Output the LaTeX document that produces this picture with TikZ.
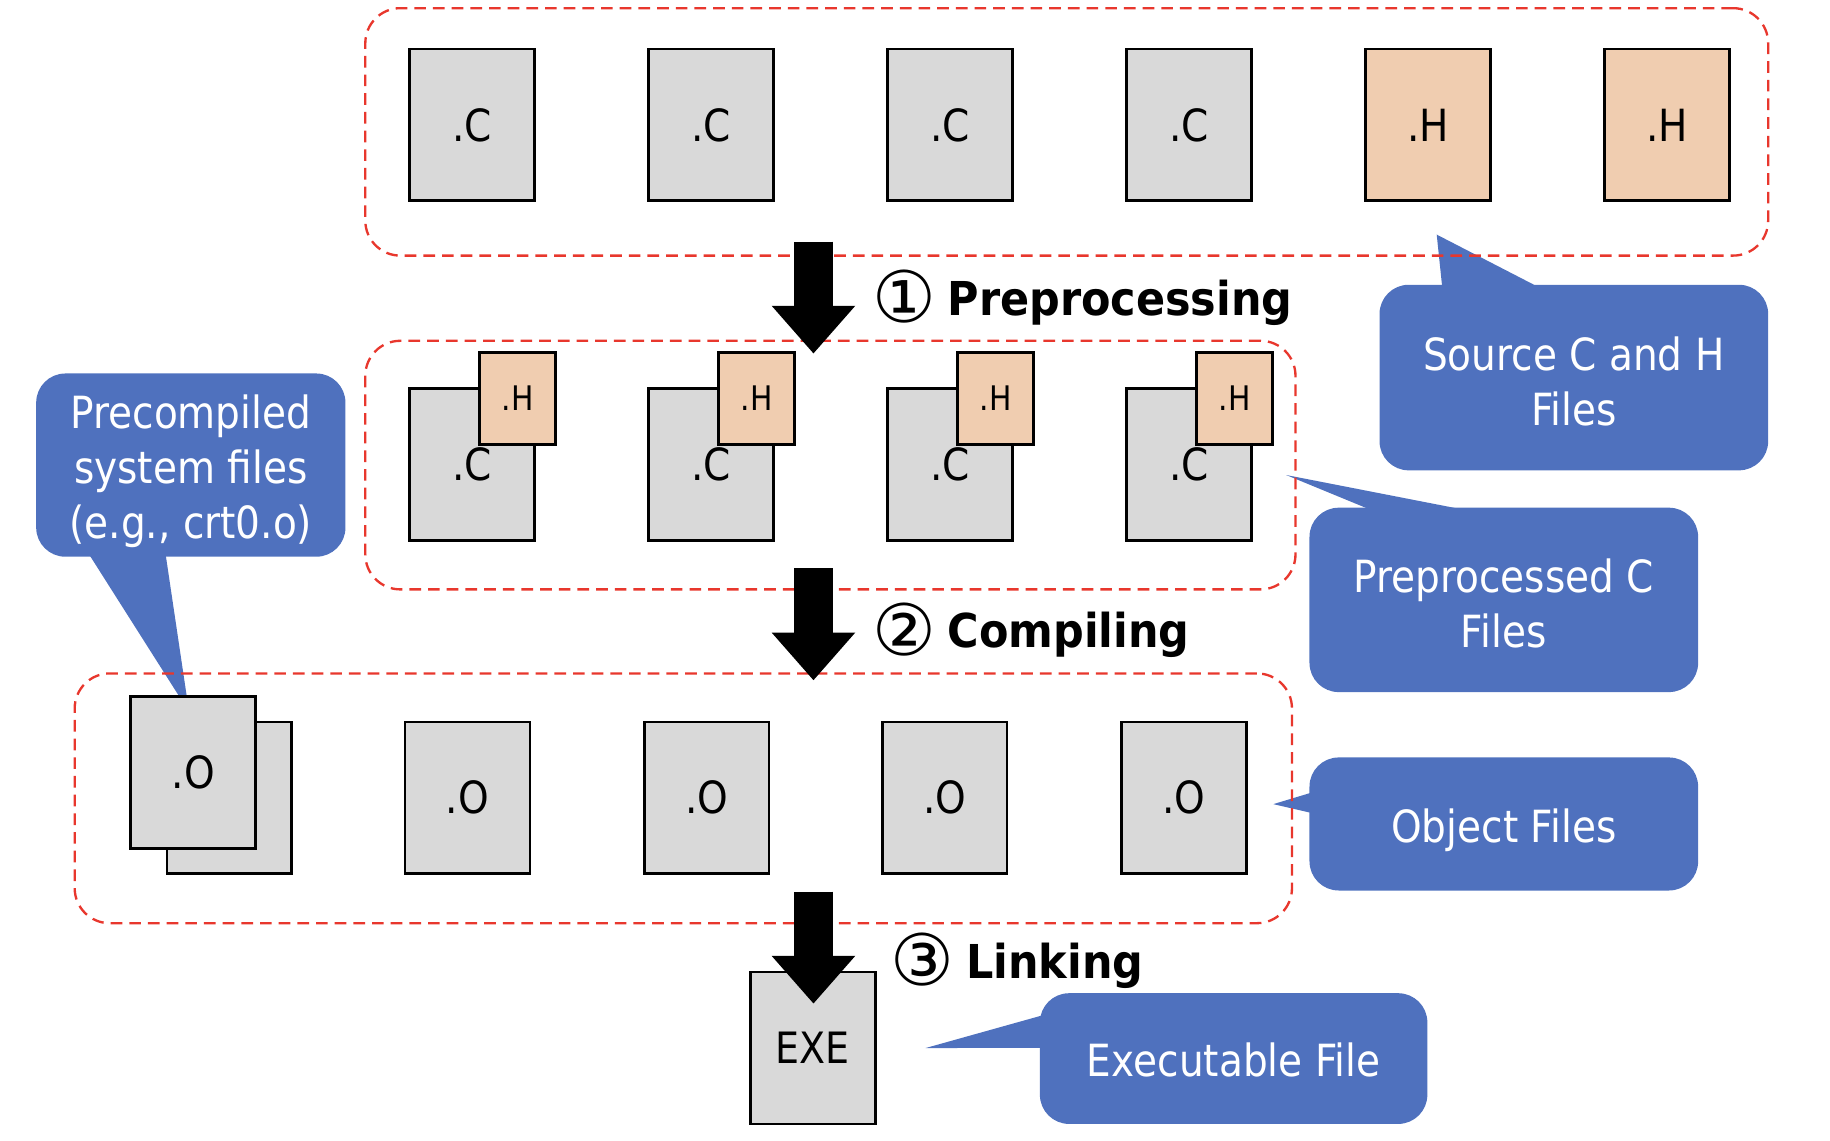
\documentclass[tikz,border=0pt]{standalone}
\usepackage{fontspec}
\setmainfont{DejaVu Sans}[FakeStretch=0.88]
\newfontfamily\labfont{DejaVu Sans}[FakeStretch=0.92]
\newfontfamily\circfont{DejaVu Sans}
\usetikzlibrary{arrows.meta,calc}
\definecolor{filegray}{HTML}{D9D9D9}
\definecolor{hpeach}{HTML}{F0CDB0}
\definecolor{callblue}{HTML}{4F71BE}
\definecolor{grpred}{HTML}{E8372D}
\newcommand{\circnum}[1]{\raisebox{-6.5pt}{\circfont\mdseries\fontsize{61}{61}\selectfont #1}\hspace{10pt}}
\begin{document}
\begin{tikzpicture}[x=1pt,y=-1pt,
 filebox/.style={draw=black, line width=2.2pt, fill=filegray, minimum width=107pt, minimum height=130pt, inner sep=0pt, font=\fontsize{38}{46}\selectfont},
 hfilebox/.style={filebox, fill=hpeach},
 hsmallbox/.style={draw=black, line width=2.2pt, fill=hpeach, minimum width=65pt, minimum height=79pt, inner sep=0pt, font=\fontsize{29}{35}\selectfont},
 grpbox/.style={draw=grpred, line width=2pt, dash pattern=on 10pt off 6pt, rounded corners=30pt, inner sep=0pt},
 calloutbox/.style={fill=callblue, rounded corners=25pt, inner sep=0pt},
 calltext/.style={text=white, align=center, inner sep=0pt, font=\fontsize{38}{47}\selectfont},
 ptr/.style={fill=callblue},
 bigarrow/.style={line width=34pt, -{Triangle[length=41pt,width=69pt]}},
 steplabel/.style={anchor=base west, inner sep=0pt, font=\labfont\bfseries\fontsize{40}{48}\selectfont}
]
\useasboundingbox (0,0) rectangle (1568,977);

% callouts
\node[calloutbox, minimum width=333pt, minimum height=159pt] (src) at (1348.5,323.5) {};
\node[calltext] (srct) at ($(src)+(0,3)$) {Source C and H\\Files};
\coordinate (srctip) at (1231,201);
\fill[ptr] ($(src.north west)+(54,3)$) -- (srctip) -- ($(src.north west)+(138,3)$) -- cycle;

\node[calloutbox, minimum width=333pt, minimum height=158pt] (pre) at (1288.5,514) {};
\node[calltext] (pret) at ($(pre)+(0,3)$) {Preprocessed C\\Files};
\coordinate (pretip) at (1102,407);
\fill[ptr] ($(pre.north west)+(55,3)$) -- (pretip) -- ($(pre.north west)+(138,3)$) -- cycle;

\node[calloutbox, minimum width=265pt, minimum height=157pt] (pcs) at (163.5,398.5) {};
\node[calltext] (pcst) at ($(pcs)+(0,5)$) {Precompiled\\system files\\(e.g., crt0.o)};
\coordinate (pcstip) at (162,610);
\fill[ptr] ($(pcs.south west)+(45,-3)$) -- (pcstip) -- ($(pcs.south west)+(111,-3)$) -- cycle;

\node[calloutbox, minimum width=333pt, minimum height=114pt] (obj) at (1288.5,706) {};
\node[calltext] (objt) at ($(obj)+(0,5)$) {Object Files};
\coordinate (objtip) at (1091,689);
\fill[ptr] ($(obj.north west)+(3,30)$) -- (objtip) -- ($(obj.north west)+(3,48)$) -- cycle;

\node[calloutbox, minimum width=332pt, minimum height=112pt] (exc) at (1057,907) {};
\node[calltext] (exct) at ($(exc)+(0,1)$) {Executable File};
\coordinate (exctip) at (793,898);
\fill[ptr] ($(exc.north west)+(3,19)$) -- (exctip) -- ($(exc.north west)+(3,47)$) -- cycle;

% groups
\node[grpbox, minimum width=1202pt, minimum height=212pt] (g1) at (914,113) {};
\node[grpbox, minimum width=797pt, minimum height=213pt] (g2) at (711.5,398.5) {};
\node[grpbox, minimum width=1043pt, minimum height=214pt] (g3) at (585.5,684) {};

% top row
\node[filebox] (c1) at (404.5,107) {.C};
\node[filebox] (c2) at (609.3,107) {.C};
\node[filebox] (c3) at (814.1,107) {.C};
\node[filebox] (c4) at (1018.9,107) {.C};
\node[hfilebox] (h1) at (1223.7,107) {.H};
\node[hfilebox] (h2) at (1428.5,107) {.H};

% middle row
\node[filebox] (pc1) at (404.5,398) {.C};
\node[filebox] (pc2) at (609.3,398) {.C};
\node[filebox] (pc3) at (814.1,398) {.C};
\node[filebox] (pc4) at (1018.9,398) {.C};
\node[hsmallbox] (ph1) at (443.5,341.5) {.H};
\node[hsmallbox] (ph2) at (648.3,341.5) {.H};
\node[hsmallbox] (ph3) at (853.1,341.5) {.H};
\node[hsmallbox] (ph4) at (1057.9,341.5) {.H};

% bottom row
\node[filebox] (ob) at (196.5,683.5) {};
\node[filebox] (o0) at (165.5,662) {.O};
\node[filebox] (o1) at (400.5,683.5) {.O};
\node[filebox] (o2) at (605.5,683.5) {.O};
\node[filebox] (o3) at (809.5,683.5) {.O};
\node[filebox] (o4) at (1014.5,683.5) {.O};

% executable
\node[filebox, font=\fontsize{37}{44}\selectfont] (exe) at (696.5,898) {EXE};

% arrows
\coordinate (a1s) at (697,207);
\coordinate (a1e) at (697,303);
\coordinate (a2s) at (697,487);
\coordinate (a2e) at (697,583);
\coordinate (a3s) at (697,764);
\coordinate (a3e) at (697,860);
\draw[bigarrow] (a1s) -- (a1e);
\draw[bigarrow] (a2s) -- (a2e);
\draw[bigarrow] (a3s) -- (a3e);

% step labels
\node[steplabel] (l1) at (747,270) {\circnum{①}Preprocessing};
\node[steplabel] (l2) at (747,555) {\circnum{②}Compiling};
\node[steplabel] (l3) at (763,838) {\circnum{③}Linking};
\end{tikzpicture}
\end{document}
